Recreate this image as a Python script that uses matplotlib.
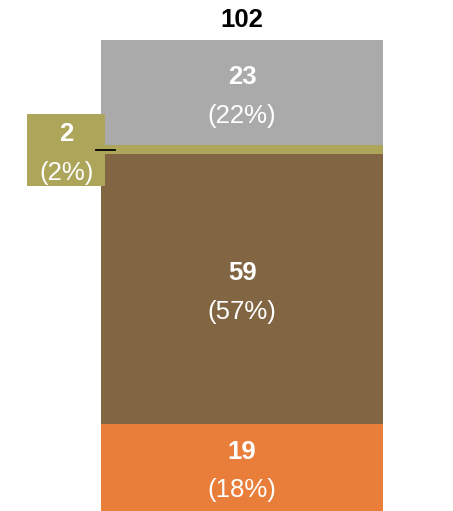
import matplotlib.pyplot as plt
from matplotlib.patches import Rectangle

plt.rcParams["font.family"] = ["Liberation Sans", "DejaVu Sans"]

# stacked segments, bottom to top
values = [19, 59, 2, 23]
colors = ["#E97E3A", "#826644", "#ACA55A", "#A9AAA9"]
total_label = 102
total = sum(values)

fig = plt.figure(figsize=(4.53, 5.11), dpi=100)
ax = fig.add_axes([0, 0, 1, 1])
ax.set_xlim(-0.858, 0.748)
ax.set_ylim(0, 111.75)
ax.axis("off")

fs = 18.5
bottom = 0
for v, col in zip(values, colors):
    ax.bar(0, v, width=1.0, bottom=bottom, color=col, linewidth=0)
    mid = bottom + v / 2
    pct = f"({round(100 * v / total)}%)"
    cx = 0
    if v < 10:
        # small segment: label sits in a box off to the left
        bx0, bw, bh = -0.762, 0.277, 15.74
        ax.add_patch(Rectangle((bx0, mid - bh / 2), bw, bh, facecolor=col,
                               edgecolor="none", zorder=3))
        ax.plot([-0.518, -0.45], [mid, mid], color="black", lw=1.3, zorder=4)
        cx = bx0 + bw / 2
    ax.annotate(str(v), (cx, mid), xytext=(0, 11.5), textcoords="offset points",
                ha="center", va="center", fontsize=fs, weight="bold", color="white", zorder=5)
    ax.annotate(pct, (cx, mid), xytext=(0, -16.5), textcoords="offset points",
                ha="center", va="center", fontsize=fs, color="white", zorder=5)
    bottom += v

ax.annotate(str(total_label), (0, total), xytext=(0, 14.5), textcoords="offset points",
            ha="center", va="center", fontsize=fs, weight="bold", color="black")

fig.savefig("out.png", dpi=100)
